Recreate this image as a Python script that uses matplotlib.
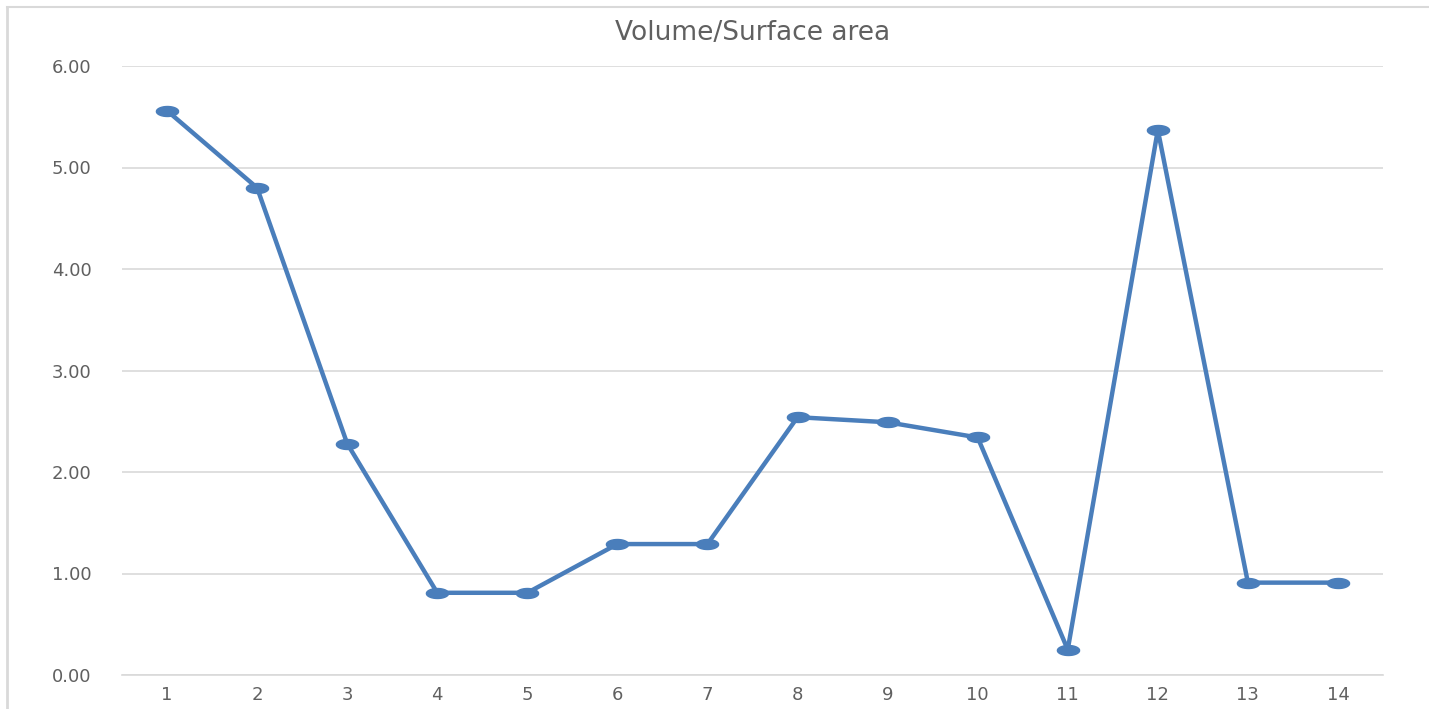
import numpy as np
import matplotlib.pyplot as plt
from matplotlib.lines import Line2D

plt.rcParams["font.family"] = "DejaVu Sans"

# Volume/Surface area per sample
samples = list(range(1, 15))
vol_surface = [5.56, 4.80, 2.28, 0.81, 0.81, 1.29, 1.29,
               2.54, 2.49, 2.34, 0.25, 5.37, 0.91, 0.91]
y_ticks = [0, 1, 2, 3, 4, 5, 6]

line_color = "#4a7ebb"
grid_color = "#d9d9d9"
text_color = "#606060"

# wide oval marker, like the stretched screenshot
t = np.linspace(0, 2 * np.pi, 40)
oval = np.column_stack([np.cos(t), 0.45 * np.sin(t)])

fig = plt.figure(figsize=(14.29, 7.09), dpi=100)
ax = fig.add_axes([122 / 1429, 1 - 675 / 709, (1383 - 122) / 1429, (675 - 66) / 709])

ax.plot(samples, vol_surface, color=line_color, linewidth=3.2,
        marker=oval, markersize=16, markeredgecolor=line_color)

ax.set_xlim(0.5, 14.5)
ax.set_ylim(0, 6)
ax.set_yticks(y_ticks)
ax.set_yticklabels([f"{v:.2f}" for v in y_ticks])
ax.set_xticks(samples)
ax.set_xticklabels([str(s) for s in samples])

ax.grid(True, axis="y", color=grid_color, linewidth=1.2)
ax.set_axisbelow(True)
for side in ["top", "right", "left"]:
    ax.spines[side].set_visible(False)
ax.spines["bottom"].set_color(grid_color)
ax.spines["bottom"].set_linewidth(1.2)
ax.tick_params(length=0, colors=text_color, labelsize=13)
ax.tick_params(axis="y", pad=22)
ax.tick_params(axis="x", pad=8)

fig.text((122 + 1383) / 2 / 1429, 1 - 33 / 709, "Volume/Surface area",
         ha="center", va="center", fontsize=19, color=text_color)

# chart frame edges from the screenshot
fig.add_artist(Line2D([7 / 1429, 1], [1 - 7 / 709, 1 - 7 / 709],
                      transform=fig.transFigure, color=grid_color, linewidth=1.5))
fig.add_artist(Line2D([7 / 1429, 7 / 1429], [0, 1 - 7 / 709],
                      transform=fig.transFigure, color=grid_color, linewidth=2))

fig.savefig("out.png", dpi=100)
